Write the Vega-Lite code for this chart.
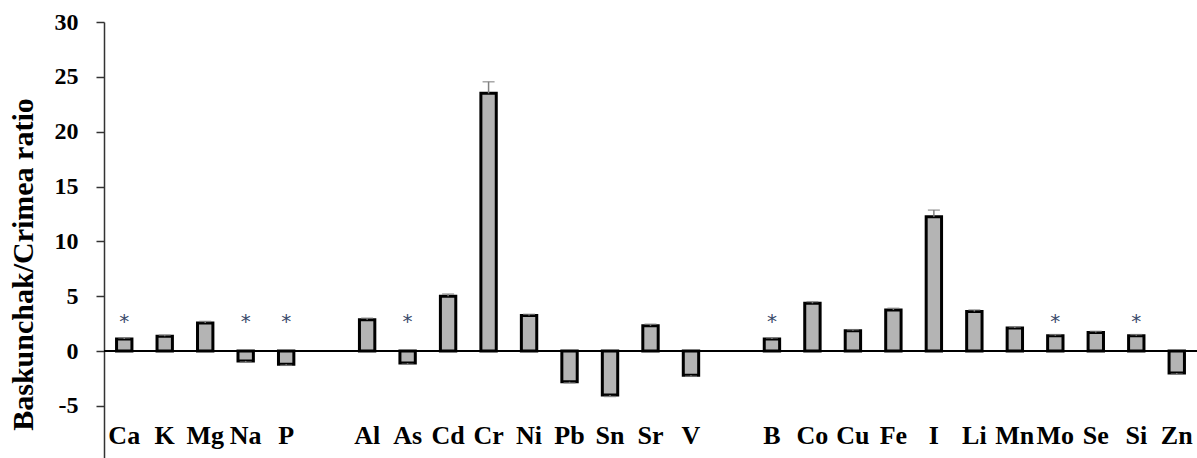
{
  "$schema": "https://vega.github.io/schema/vega-lite/v6.json",
  "width": 1093,
  "height": 436,
  "autosize": {"type": "none"},
  "padding": {"left": 104, "top": 22, "right": 0, "bottom": 0},
  "background": "white",
  "config": {"view": {"stroke": null}},
  "data": {
    "values": [
      {"el": "Ca", "v": 1.1, "hi": 1.2, "star": 3},
      {"el": "K", "v": 1.35, "hi": 1.45},
      {"el": "Mg", "v": 2.55, "hi": 2.7},
      {"el": "Na", "v": -0.9, "hi": -1.0, "star": 3},
      {"el": "P", "v": -1.2, "hi": -1.3, "star": 3},
      {"el": "Al", "v": 2.85, "hi": 3.0},
      {"el": "As", "v": -1.1, "hi": -1.2, "star": 3},
      {"el": "Cd", "v": 5.0, "hi": 5.2},
      {"el": "Cr", "v": 23.5, "hi": 24.55},
      {"el": "Ni", "v": 3.25, "hi": 3.35},
      {"el": "Pb", "v": -2.8, "hi": -2.9},
      {"el": "Sn", "v": -4.0, "hi": -4.15},
      {"el": "Sr", "v": 2.3, "hi": 2.45},
      {"el": "V", "v": -2.2, "hi": -2.3},
      {"el": "B", "v": 1.1, "hi": 1.2, "star": 3},
      {"el": "Co", "v": 4.35, "hi": 4.5},
      {"el": "Cu", "v": 1.85, "hi": 1.95},
      {"el": "Fe", "v": 3.75, "hi": 3.9},
      {"el": "I", "v": 12.25, "hi": 12.85},
      {"el": "Li", "v": 3.6, "hi": 3.75},
      {"el": "Mn", "v": 2.1, "hi": 2.2},
      {"el": "Mo", "v": 1.4, "hi": 1.5, "star": 3},
      {"el": "Se", "v": 1.7, "hi": 1.8},
      {"el": "Si", "v": 1.4, "hi": 1.5, "star": 3},
      {"el": "Zn", "v": -2.0, "hi": -2.1}
    ]
  },
  "encoding": {
    "x": {
      "field": "el",
      "type": "nominal",
      "sort": null,
      "scale": {
        "domain": ["Ca","K","Mg","Na","P","_1","Al","As","Cd","Cr","Ni","Pb","Sn","Sr","V","_2","B","Co","Cu","Fe","I","Li","Mn","Mo","Se","Si","Zn"],
        "paddingInner": 0.6,
        "paddingOuter": 0.3
      },
      "axis": {
        "title": null,
        "domain": false,
        "ticks": false,
        "labelAngle": 0,
        "labelExpr": "datum.value[0] === '_' ? '' : datum.value",
        "labelFont": "Liberation Serif",
        "labelFontWeight": "bold",
        "labelFontSize": 26,
        "labelColor": "#000",
        "labelPadding": -36,
        "labelBaseline": "top"
      }
    }
  },
  "layer": [
    {
      "mark": {"type": "rule", "color": "#000", "strokeWidth": 1.5},
      "encoding": {"x": null, "y": {"datum": 0, "type": "quantitative"}}
    },
    {
      "mark": {"type": "bar", "fill": "#b4b4b4", "stroke": "#000", "strokeWidth": 3, "width": {"band": 0.95}},
      "encoding": {
        "y": {
          "field": "v",
          "type": "quantitative",
          "scale": {"domain": [-9.75, 30], "nice": false, "zero": false},
          "axis": {
            "title": "Baskunchak/Crimea ratio",
            "values": [-5, 0, 5, 10, 15, 20, 25, 30],
            "labelExpr": "'' + datum.value",
            "grid": false,
            "domainColor": "#333",
            "domainWidth": 1.5,
            "tickColor": "#333",
            "tickWidth": 1.5,
            "tickSize": 8,
            "labelFont": "Liberation Serif",
            "labelFontWeight": "bold",
            "labelFontSize": 24,
            "labelColor": "#000",
            "labelPadding": 18,
            "titleFont": "Liberation Serif",
            "titleFontWeight": "bold",
            "titleFontSize": 30,
            "titleColor": "#000",
            "titleY": 242,
            "titlePadding": 16
          }
        },
        "y2": {"datum": 0}
      }
    },
    {
      "mark": {"type": "rule", "color": "#808080", "strokeWidth": 1.5},
      "encoding": {"y": {"field": "v", "type": "quantitative"}, "y2": {"field": "hi"}}
    },
    {
      "mark": {"type": "tick", "color": "#808080", "thickness": 1.5, "size": 12, "orient": "horizontal"},
      "encoding": {"y": {"field": "hi", "type": "quantitative"}}
    },
    {
      "transform": [{"filter": "isValid(datum.star)"}],
      "mark": {"type": "text", "text": "*", "font": "DejaVu Sans", "fontSize": 20, "color": "#3a4a6a", "baseline": "middle", "dy": 4},
      "encoding": {"y": {"field": "star", "type": "quantitative"}}
    }
  ]
}
